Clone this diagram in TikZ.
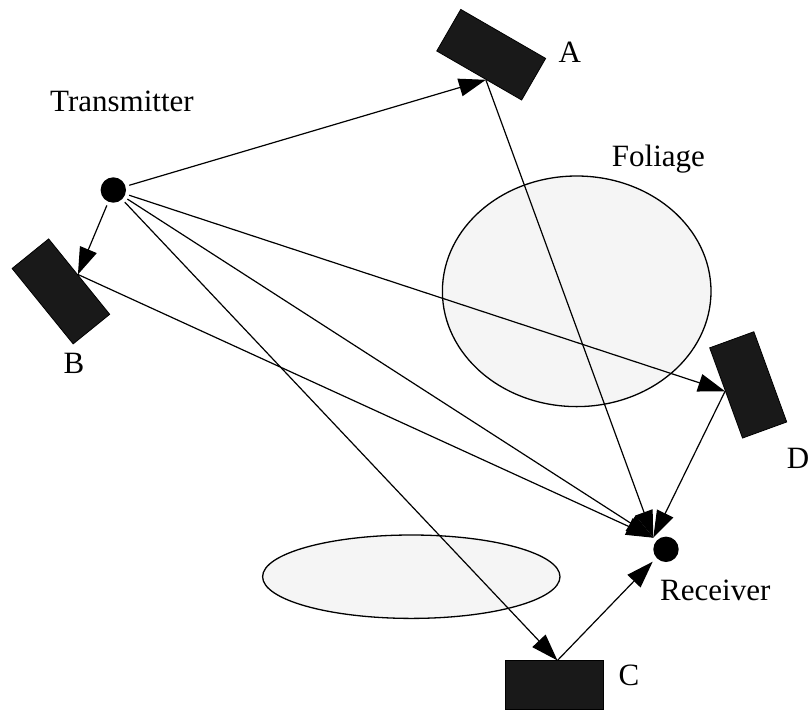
\documentclass[tikz,border=0pt]{standalone}
\usepackage{fontspec}
\setmainfont{Liberation Serif}
\usetikzlibrary{arrows.meta,calc}
\begin{document}
\begin{tikzpicture}[x=1pt,y=-1pt,
  reflector/.style={draw=black,line width=0.8pt,fill=black!90,rectangle,inner sep=0pt,anchor=center},
  dotnode/.style={circle,fill=black,inner sep=0pt,minimum size=25.4pt,outer sep=4pt},
  obstacle/.style={draw=black,line width=1.3pt,fill=black!4},
  lbl/.style={inner sep=0pt,anchor=base west,font=\fontsize{31}{37}\selectfont},
  ray/.style={line width=1.2pt},
  rayarrow/.style={ray,-{Triangle[length=27pt,width=18pt]}}]
\useasboundingbox (0,0) rectangle (809,713);
% obstacles
\draw[obstacle] (576.7,291.3) ellipse [x radius=134.3,y radius=115.3];
\draw[obstacle] (411.3,576.7) ellipse [x radius=148.7,y radius=41.7];
% reflectors
\node[reflector,minimum width=98pt,minimum height=48pt,rotate=-30] (A) at (491.2,54.7) {};
\node[reflector,minimum width=97pt,minimum height=47pt,rotate=-51] (B) at (60.9,291.4) {};
\node[reflector,minimum width=96pt,minimum height=47pt,rotate=-70] (D) at (748.2,384.9) {};
\node[reflector,minimum width=97.6pt,minimum height=48.3pt] (C) at (554.5,685) {};
% transmitter and receiver
\node[dotnode] (T) at (113.3,190) {};
\node[dotnode] (R) at (666,549.3) {};
% contact points
\coordinate (pA) at ($(A.south west)!0.58!(A.south east)$);
\coordinate (pB) at ($(B.north west)!0.475!(B.north east)$);
\coordinate (pD) at ($(D.south west)!0.48!(D.south east)$);
\coordinate (pC) at ($(C.north west)!0.53!(C.north east)$);
\coordinate (rtop) at ($(R.center)+(-12.7,-11.6)$);
\coordinate (rbot) at ($(R.center)+(-13.3,12.4)$);
% rays
\draw[rayarrow] (T) -- (pA);
\draw[rayarrow] (T) -- (pB);
\draw[rayarrow] (T) -- (pD);
\draw[rayarrow] (T) -- (pC);
\draw[rayarrow] (T) -- (rtop);
\draw[rayarrow] (pA) -- (rtop);
\draw[rayarrow] (pB) -- (rtop);
\draw[rayarrow] (pD) -- (rtop);
\draw[rayarrow] (pC) -- (rbot);
% labels
\node[lbl] (tT) at (50,111.7) {Transmitter};
\node[lbl] (tF) at (611.7,166.7) {Foliage};
\node[lbl] (tA) at (558.3,62.3) {A};
\node[lbl] (tB) at (63.3,373.3) {B};
\node[lbl] (tD) at (786.7,468.3) {D};
\node[lbl] (tC) at (618.3,685) {C};
\node[lbl] (tR) at (660,600) {Receiver};
\end{tikzpicture}
\end{document}
